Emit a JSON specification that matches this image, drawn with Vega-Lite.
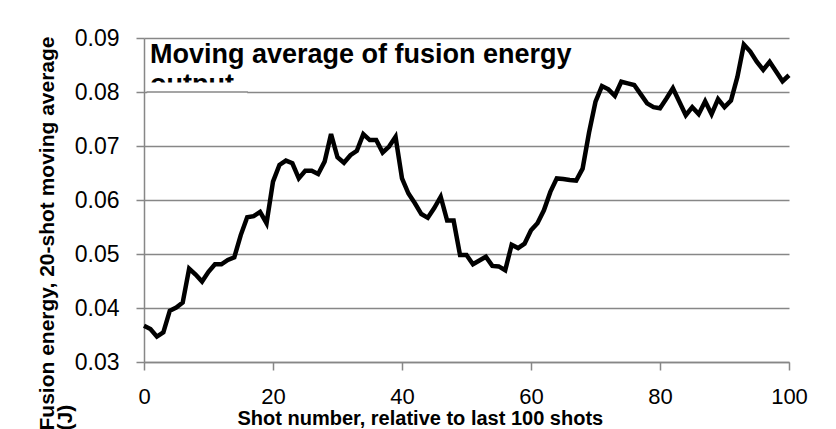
{
  "$schema": "https://vega.github.io/schema/vega-lite/v6.json",
  "width": 645,
  "height": 324,
  "autosize": {"type": "none"},
  "padding": {"left": 144, "top": 38, "right": 47, "bottom": 67},
  "background": "white",
  "config": {"view": {"stroke": null}},
  "layer": [
    {
      "data": {"values": [
        {"shot": 0, "energy": 0.0367}, {"shot": 1, "energy": 0.0361}, {"shot": 2, "energy": 0.0347}, {"shot": 3, "energy": 0.0355}, {"shot": 4, "energy": 0.0395},
        {"shot": 5, "energy": 0.0401}, {"shot": 6, "energy": 0.0410}, {"shot": 7, "energy": 0.0473}, {"shot": 8, "energy": 0.0462}, {"shot": 9, "energy": 0.0449},
        {"shot": 10, "energy": 0.0467}, {"shot": 11, "energy": 0.0481}, {"shot": 12, "energy": 0.0481}, {"shot": 13, "energy": 0.0489}, {"shot": 14, "energy": 0.0494},
        {"shot": 15, "energy": 0.0535}, {"shot": 16, "energy": 0.0568}, {"shot": 17, "energy": 0.0570}, {"shot": 18, "energy": 0.0578}, {"shot": 19, "energy": 0.0557},
        {"shot": 20, "energy": 0.0634}, {"shot": 21, "energy": 0.0665}, {"shot": 22, "energy": 0.0673}, {"shot": 23, "energy": 0.0668}, {"shot": 24, "energy": 0.0640},
        {"shot": 25, "energy": 0.0654}, {"shot": 26, "energy": 0.0654}, {"shot": 27, "energy": 0.0648}, {"shot": 28, "energy": 0.0671}, {"shot": 29, "energy": 0.0722},
        {"shot": 30, "energy": 0.0679}, {"shot": 31, "energy": 0.0669}, {"shot": 32, "energy": 0.0683}, {"shot": 33, "energy": 0.0691}, {"shot": 34, "energy": 0.0722},
        {"shot": 35, "energy": 0.0711}, {"shot": 36, "energy": 0.0711}, {"shot": 37, "energy": 0.0688}, {"shot": 38, "energy": 0.0699}, {"shot": 39, "energy": 0.0717},
        {"shot": 40, "energy": 0.0640}, {"shot": 41, "energy": 0.0612}, {"shot": 42, "energy": 0.0594}, {"shot": 43, "energy": 0.0574}, {"shot": 44, "energy": 0.0567},
        {"shot": 45, "energy": 0.0585}, {"shot": 46, "energy": 0.0606}, {"shot": 47, "energy": 0.0562}, {"shot": 48, "energy": 0.0562}, {"shot": 49, "energy": 0.0498},
        {"shot": 50, "energy": 0.0498}, {"shot": 51, "energy": 0.0481}, {"shot": 52, "energy": 0.0488}, {"shot": 53, "energy": 0.0495}, {"shot": 54, "energy": 0.0478},
        {"shot": 55, "energy": 0.0477}, {"shot": 56, "energy": 0.0470}, {"shot": 57, "energy": 0.0517}, {"shot": 58, "energy": 0.0511}, {"shot": 59, "energy": 0.0519},
        {"shot": 60, "energy": 0.0544}, {"shot": 61, "energy": 0.0557}, {"shot": 62, "energy": 0.0581}, {"shot": 63, "energy": 0.0615}, {"shot": 64, "energy": 0.0640},
        {"shot": 65, "energy": 0.0639}, {"shot": 66, "energy": 0.0637}, {"shot": 67, "energy": 0.0636}, {"shot": 68, "energy": 0.0658}, {"shot": 69, "energy": 0.0725},
        {"shot": 70, "energy": 0.0782}, {"shot": 71, "energy": 0.0811}, {"shot": 72, "energy": 0.0805}, {"shot": 73, "energy": 0.0793}, {"shot": 74, "energy": 0.0819},
        {"shot": 75, "energy": 0.0816}, {"shot": 76, "energy": 0.0813}, {"shot": 77, "energy": 0.0796}, {"shot": 78, "energy": 0.0779}, {"shot": 79, "energy": 0.0772},
        {"shot": 80, "energy": 0.0770}, {"shot": 81, "energy": 0.0788}, {"shot": 82, "energy": 0.0807}, {"shot": 83, "energy": 0.0782}, {"shot": 84, "energy": 0.0757},
        {"shot": 85, "energy": 0.0772}, {"shot": 86, "energy": 0.0759}, {"shot": 87, "energy": 0.0783}, {"shot": 88, "energy": 0.0759}, {"shot": 89, "energy": 0.0787},
        {"shot": 90, "energy": 0.0772}, {"shot": 91, "energy": 0.0784}, {"shot": 92, "energy": 0.0828}, {"shot": 93, "energy": 0.0888}, {"shot": 94, "energy": 0.0875},
        {"shot": 95, "energy": 0.0856}, {"shot": 96, "energy": 0.0841}, {"shot": 97, "energy": 0.0856}, {"shot": 98, "energy": 0.0838}, {"shot": 99, "energy": 0.0820},
        {"shot": 100, "energy": 0.0831}
      ]},
      "mark": {"type": "line", "color": "black", "strokeWidth": 4.5, "strokeJoin": "miter", "strokeCap": "butt"},
      "encoding": {
        "x": {
          "field": "shot", "type": "quantitative",
          "scale": {"domain": [0, 100], "nice": false, "zero": false},
          "axis": {
            "title": "Shot number, relative to last 100 shots",
            "values": [0, 20, 40, 60, 80, 100],
            "grid": false,
            "domainColor": "#878787", "domainWidth": 1.5,
            "tickColor": "#878787", "tickWidth": 1.5, "tickSize": 8,
            "labelFont": "Liberation Sans", "labelFontSize": 22, "labelColor": "black",
            "labelPadding": 16, "labelFlush": false,
            "titleFont": "Liberation Sans", "titleFontSize": 20, "titleFontWeight": "bold", "titleColor": "black",
            "titleAlign": "left", "titleBaseline": "alphabetic", "titleX": 93, "titleY": 62
          }
        },
        "y": {
          "field": "energy", "type": "quantitative",
          "scale": {"domain": [0.03, 0.09], "nice": false, "zero": false},
          "axis": {
            "title": ["Fusion energy, 20-shot moving average", "(J)"],
            "values": [0.03, 0.04, 0.05, 0.06, 0.07, 0.08, 0.09],
            "format": ".2f",
            "grid": true, "gridColor": "#878787", "gridWidth": 1.5,
            "domainColor": "#878787", "domainWidth": 1.5,
            "tickColor": "#878787", "tickWidth": 1.5, "tickSize": 8,
            "labelFont": "Liberation Sans", "labelFontSize": 23, "labelColor": "black",
            "labelPadding": 17, "labelFlush": false,
            "titleFont": "Liberation Sans", "titleFontSize": 21, "titleFontWeight": "bold", "titleColor": "black",
            "titleAngle": 270, "titleAlign": "left", "titleBaseline": "alphabetic",
            "titleX": -91, "titleY": 392, "titleLineHeight": 18
          }
        }
      }
    },
    {
      "data": {"values": [{"caption": "title"}]},
      "mark": {"type": "text", "text": ["Moving average of fusion energy", "output"], "font": "Liberation Sans", "fontSize": 27, "fontWeight": "bold", "color": "black", "align": "left", "baseline": "alphabetic", "lineHeight": 30},
      "encoding": {
        "x": {"datum": 0.93, "type": "quantitative"},
        "y": {"datum": 0.08531, "type": "quantitative"}
      }
    },
    {
      "data": {"values": [{"caption": "clip"}]},
      "mark": {"type": "rect", "color": "white"},
      "encoding": {
        "x": {"datum": 0.5, "type": "quantitative"},
        "x2": {"datum": 16},
        "y": {"datum": 0.07852, "type": "quantitative"},
        "y2": {"datum": 0.08176}
      }
    },
    {
      "data": {"values": [{"caption": "grid"}]},
      "mark": {"type": "rule", "color": "#878787", "strokeWidth": 1.5},
      "encoding": {
        "x": {"datum": 0.4, "type": "quantitative"},
        "x2": {"datum": 16.1},
        "y": {"datum": 0.08, "type": "quantitative"}
      }
    }
  ]
}
